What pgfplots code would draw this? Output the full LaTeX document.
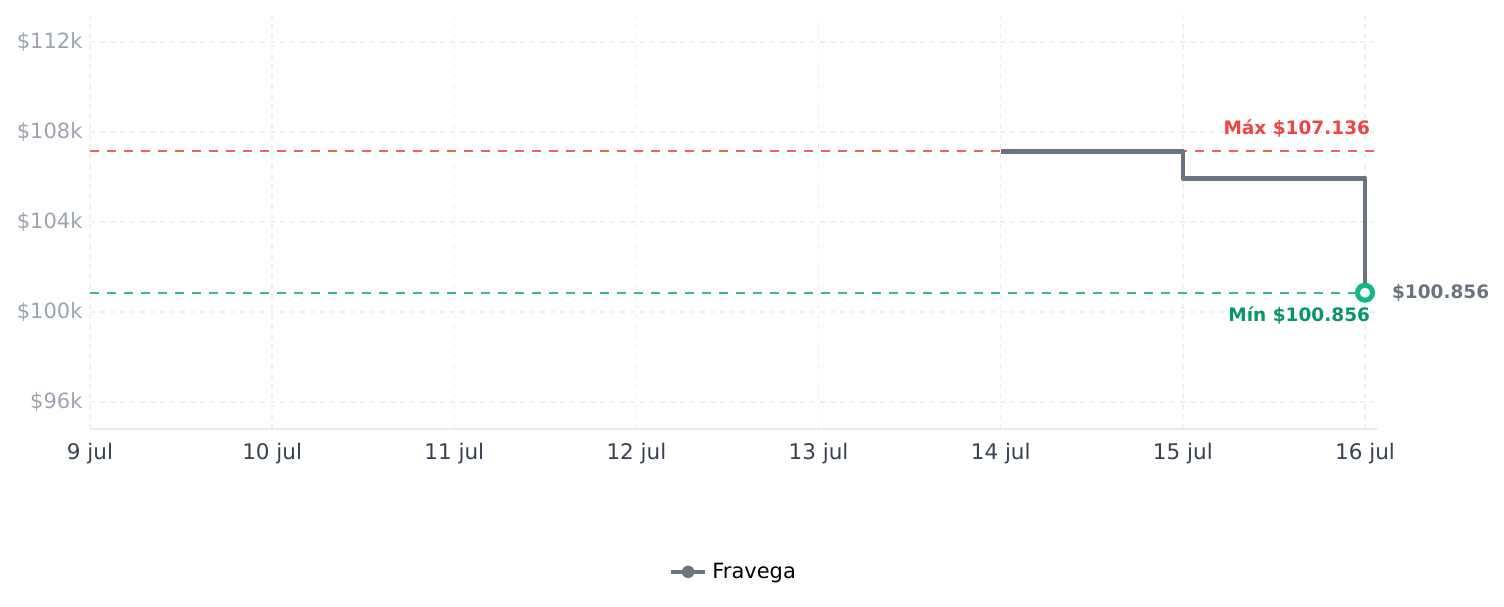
\documentclass[border=0pt]{standalone}
\usepackage{fontspec}
\setmainfont{DejaVu Sans}
\usepackage{pgfplots}
\pgfplotsset{compat=1.18}
\definecolor{gridc}{HTML}{F0F0F0}
\definecolor{ytickc}{HTML}{9CA3AF}
\definecolor{xtickc}{HTML}{374151}
\definecolor{linec}{HTML}{6B7280}
\definecolor{redtext}{HTML}{EF4444}
\definecolor{maxline}{HTML}{F06060}
\definecolor{mingreen}{HTML}{40B58A}
\definecolor{greentext}{HTML}{059669}
\definecolor{greenmark}{HTML}{10B981}
\definecolor{axisc}{HTML}{E5E7EB}
\begin{document}
\begin{tikzpicture}
\useasboundingbox (-90pt,-178pt) rectangle (1414pt,429pt);
\begin{axis}[
  at={(0pt,0pt)}, anchor=south west,
  scale only axis, width=1287pt, height=414pt,
  xmin=0, xmax=7.066, ymin=94.8, ymax=113.2,
  axis lines*=left,
  x axis line style={draw=axisc, line width=1.5pt},
  y axis line style={draw=none},
  major tick length=0pt,
  xtick={0,1,2,3,4,5,6,7},
  xticklabels={9 jul,10 jul,11 jul,12 jul,13 jul,14 jul,15 jul,16 jul},
  ytick={96,100,104,108,112},
  yticklabels={\$96k,\$100k,\$104k,\$108k,\$112k},
  x tick label style={font=\fontsize{21.5}{25}\selectfont, text=xtickc, yshift=-11pt},
  y tick label style={font=\fontsize{21}{25}\selectfont, text=ytickc, xshift=-4pt},
  grid=major,
  major grid style={draw=gridc, line width=1.3pt, dash pattern=on 5pt off 5pt},
  clip=false,
  legend style={at={(0.5,-0.345)}, anchor=center, draw=none, fill=none,
    font=\fontsize{21}{25}\selectfont},
]
\addplot[forget plot, draw=mingreen, line width=1.8pt, dash pattern=on 9pt off 8pt]
  coordinates {(0,100.856) (7.066,100.856)};
\addplot[forget plot, draw=maxline, line width=2pt, dash pattern=on 9pt off 8pt]
  coordinates {(0,107.136) (7.066,107.136)};
\addplot[forget plot, const plot mark left, line width=4.6pt, color=linec, line join=round]
  coordinates {(5,107.136) (6,105.94) (7,100.856)};
\addplot[forget plot, only marks, mark=*, mark size=7.5pt,
  mark options={fill=white, draw=greenmark, line width=5pt}]
  coordinates {(7,100.856)};
\addlegendimage{legend image code/.code={
  \draw[line width=4pt, color=linec] (0pt,0pt) -- (34pt,0pt);
  \fill[linec] (17pt,0pt) circle (6pt);
  \path (39pt,0pt);}}
\addlegendentry{Fravega}
\node[anchor=base east, text=redtext, font=\bfseries\fontsize{18.5}{22}\selectfont,
  xshift=8.5pt, yshift=17pt] at (axis cs:7,107.136) {Máx \$107.136};
\node[anchor=base east, text=greentext, font=\bfseries\fontsize{18.5}{22}\selectfont,
  xshift=8.5pt, yshift=-29pt] at (axis cs:7,100.856) {Mín \$100.856};
\node[anchor=west, text=linec, font=\bfseries\fontsize{18.5}{22}\selectfont,
  xshift=23.5pt] at (axis cs:7,100.856) {\$100.856};
\end{axis}
\end{tikzpicture}
\end{document}
